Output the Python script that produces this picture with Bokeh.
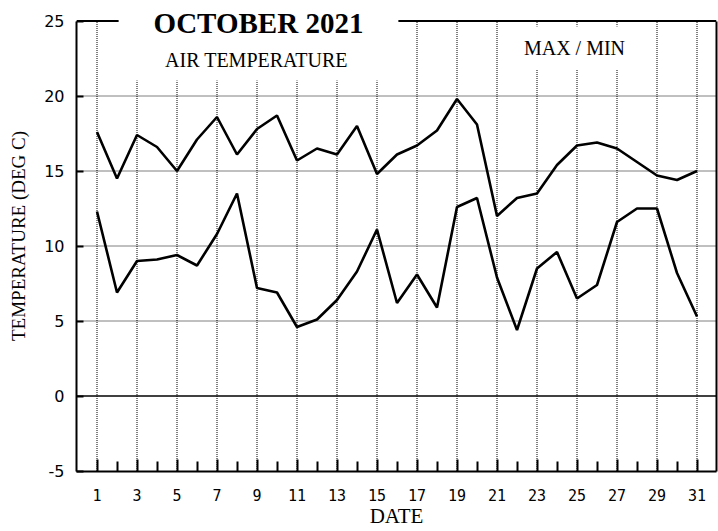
from bokeh.plotting import figure
from bokeh.models import (Range1d, FixedTicker, Span, Label, PrintfTickFormatter,
                          LinearAxis, BoxAnnotation)
from bokeh.embed import file_html
from bokeh.resources import INLINE

# ---- data ----
days = list(range(1, 32))
tmax = [17.6, 14.5, 17.4, 16.6, 15.0, 17.1, 18.6, 16.1, 17.8, 18.7, 15.7, 16.5, 16.1, 18.0, 14.8, 16.1,
        16.7, 17.7, 19.8, 18.1, 12.0, 13.2, 13.5, 15.4, 16.7, 16.9, 16.5, 15.6, 14.7, 14.4, 15.0]
tmin = [12.3, 6.9, 9.0, 9.1, 9.4, 8.7, 10.8, 13.5, 7.2, 6.9, 4.6, 5.1, 6.4, 8.3, 11.1, 6.2,
        8.1, 5.9, 12.6, 13.2, 7.9, 4.4, 8.5, 9.6, 6.5, 7.4, 11.6, 12.5, 12.5, 8.2, 5.3]
x_major = [1, 3, 5, 7, 9, 11, 13, 15, 17, 19, 21, 23, 25, 27, 29, 31]
x_minor = [2, 4, 6, 8, 10, 12, 14, 16, 18, 20, 22, 24, 26, 28, 30]
y_ticks = [-5, 0, 5, 10, 15, 20, 25]
y_grid = [5, 10, 15, 20]
y_min, y_max = -5, 25

x_start, x_end = -0.025, 31.975
y_start, y_end = -5.0333, 26.3667

p = figure(width=718, height=531, x_range=Range1d(x_start, x_end), y_range=Range1d(y_start, y_end),
           output_backend="svg", toolbar_location=None,
           min_border_left=76, min_border_right=2, min_border_top=0, min_border_bottom=60)
p.background_fill_color = "white"
p.border_fill_color = "white"
p.outline_line_color = None

# axes
xa = p.xaxis[0]
xa.ticker = FixedTicker(ticks=x_major, minor_ticks=x_minor)
xa.axis_line_width = 2
xa.axis_line_color = "black"
xa.major_tick_in = 12
xa.major_tick_out = 0
xa.minor_tick_in = 10
xa.minor_tick_out = 0
xa.major_tick_line_width = 2
xa.minor_tick_line_width = 2
xa.major_tick_line_color = "black"
xa.minor_tick_line_color = "black"
xa.major_label_text_font = "DejaVu Sans Mono"
xa.major_label_text_font_size = "15px"
xa.major_label_text_color = "black"
xa.major_label_standoff = 17
xa.axis_label = "DATE"
xa.axis_label_text_font = "Liberation Serif"
xa.axis_label_text_font_size = "21px"
xa.axis_label_text_font_style = "normal"
xa.axis_label_text_color = "black"
xa.axis_label_standoff = 0

ya = p.yaxis[0]
ya.bounds = (y_min, y_max)
ya.ticker = FixedTicker(ticks=y_ticks, minor_ticks=[])
ya.formatter = PrintfTickFormatter(format="%d")
ya.axis_line_width = 2
ya.axis_line_color = "black"
ya.major_tick_in = 7
ya.major_tick_out = 0
ya.minor_tick_line_color = None
ya.major_tick_line_width = 2
ya.major_tick_line_color = "black"
ya.major_label_text_font = "DejaVu Sans"
ya.major_label_text_font_size = "16px"
ya.major_label_text_color = "black"
ya.major_label_standoff = 12
ya.axis_label = "TEMPERATURE (DEG C)"
ya.axis_label_text_font = "Liberation Serif"
ya.axis_label_text_font_size = "19px"
ya.axis_label_text_font_style = "normal"
ya.axis_label_text_color = "black"
ya.axis_label_standoff = 12

# right border as a bare axis line
ra = LinearAxis(bounds=(y_min, y_max), ticker=FixedTicker(ticks=[], minor_ticks=[]),
                axis_line_width=2, axis_line_color="black",
                major_tick_line_color=None, minor_tick_line_color=None,
                major_tick_in=0, major_tick_out=0, minor_tick_in=0, minor_tick_out=0,
                major_label_standoff=0, major_label_text_font_size="0px")
p.add_layout(ra, "right")

# dotted grid, limited to the scale
p.xgrid.grid_line_color = None
p.ygrid.grid_line_color = None
p.segment(x0=x_major, y0=[y_min] * len(x_major), x1=x_major, y1=[y_max] * len(x_major),
          line_color="black", line_dash="1 1", line_width=1)
p.segment(x0=[x_start] * len(y_grid), y0=y_grid, x1=[x_end] * len(y_grid), y1=y_grid,
          line_color="black", line_dash="1 1", line_width=1)

# data lines
p.line(days, tmax, line_color="black", line_width=2.6)
p.line(days, tmin, line_color="black", line_width=2.6)

# blank band above the top of the scale, top border and zero line
p.add_layout(BoxAnnotation(bottom=y_max, top=y_end + 2, left=x_start - 1, right=x_end + 1,
                           fill_color="white", fill_alpha=1.0, line_color=None))
p.add_layout(Span(location=y_max, dimension="width", line_color="black", line_width=2))
p.add_layout(Span(location=0, dimension="width", line_color="black", line_width=1.5))

# texts
p.add_layout(Label(x=9.075, y=23.83, text="OCTOBER 2021", text_font="Liberation Serif",
                   text_font_size="29px", text_font_style="bold", text_color="black",
                   text_align="center", text_baseline="middle",
                   background_fill_color="white", border_line_color=None,
                   padding=dict(left=35, right=35, top=10, bottom=42)))
p.add_layout(Label(x=8.975, y=22.37, text="AIR TEMPERATURE", text_font="Liberation Serif",
                   text_font_size="20px", text_color="black",
                   text_align="center", text_baseline="middle"))
p.add_layout(Label(x=24.875, y=23.2, text="MAX / MIN", text_font="Liberation Serif",
                   text_font_size="20px", text_color="black",
                   text_align="center", text_baseline="middle",
                   background_fill_color="white", border_line_color=None,
                   padding=dict(left=15, right=15, top=10, bottom=11)))

open("out.html", "w").write(file_html(p, INLINE))
